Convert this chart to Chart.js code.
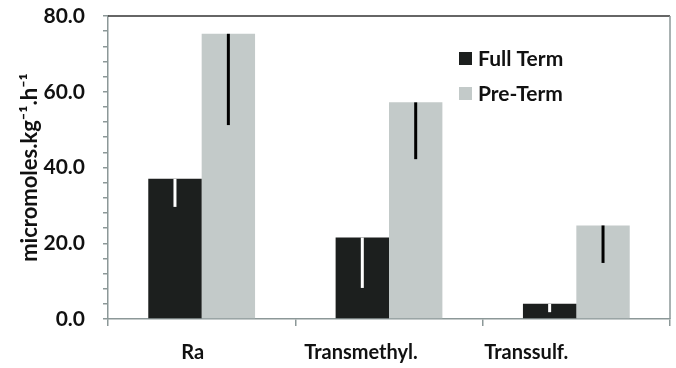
<!DOCTYPE html>
<html lang="en">
<head>
    <meta charset="UTF-8">
    <title>Methionine kinetics</title>
    <style>
        body {
            margin: 0;
            padding: 0;
            background-color: #fff;
        }
        .chart-box {
            width: 676px;
            height: 368px;
        }
    </style>
</head>
<body>

<div class="chart-box">
    <canvas id="rateChart" width="676" height="368"></canvas>
</div>

<script src="https://cdn.jsdelivr.net/npm/chart.js"></script>
<script>
    // values
    const categories = ['Ra', 'Transmethyl.', 'Transsulf.'];
    const fullTerm = [37.0, 21.5, 4.0];
    const fullTermLow = [29.6, 8.2, 1.8];
    const preTerm = [75.3, 57.2, 24.7];
    const preTermLow = [51.2, 42.2, 14.8];
    const yTicks = [0, 20, 40, 60, 80];

    const FONT = 'Lato, "Open Sans", sans-serif';
    const darkBar = '#1c1f1e';
    const lightBar = '#c3cac9';
    const axisGrey = '#8c9898';

    // error bars drawn downward from each bar top
    const errorBars = {
        id: 'errorBars',
        afterDatasetsDraw(chart) {
            const ctx = chart.ctx;
            const y = chart.scales.y;
            const lows = [fullTermLow, preTermLow];
            const colors = ['#ffffff', '#000000'];
            ctx.save();
            ctx.lineWidth = 3;
            lows.forEach((low, i) => {
                const meta = chart.getDatasetMeta(i);
                ctx.strokeStyle = colors[i];
                meta.data.forEach((bar, j) => {
                    ctx.beginPath();
                    ctx.moveTo(bar.x, bar.y);
                    ctx.lineTo(bar.x, y.getPixelForValue(low[j]));
                    ctx.stroke();
                });
            });
            ctx.restore();
        }
    };

    // top and right frame, legend inside plot, shifted category labels
    const decorations = {
        id: 'decorations',
        afterDraw(chart) {
            const ctx = chart.ctx;
            const a = chart.chartArea;
            ctx.save();
            ctx.lineWidth = 1.5;
            ctx.strokeStyle = '#333';
            ctx.beginPath();
            ctx.moveTo(a.left, a.top);
            ctx.lineTo(a.right, a.top);
            ctx.stroke();
            ctx.strokeStyle = axisGrey;
            ctx.beginPath();
            ctx.moveTo(a.right, a.top);
            ctx.lineTo(a.right, a.bottom);
            ctx.stroke();

            // legend
            const items = chart.data.datasets;
            ctx.font = 'bold 21px ' + FONT;
            ctx.textBaseline = 'middle';
            ctx.textAlign = 'left';
            items.forEach((ds, i) => {
                const ly = a.top + 42 + i * 35;
                ctx.fillStyle = ds.backgroundColor;
                ctx.fillRect(a.left + 351, ly - 6, 13, 13);
                ctx.fillStyle = '#111';
                ctx.fillText(ds.label, a.left + 370, ly + 1);
            });

            // category labels (as placed in the original figure)
            const shift = [-9, -28, -50];
            const x = chart.scales.x;
            ctx.textAlign = 'center';
            ctx.font = 'bold 20px ' + FONT;
            categories.forEach((c, i) => {
                ctx.fillText(c, x.getPixelForValue(i) + shift[i], a.bottom + 34);
            });
            ctx.restore();
        }
    };

    new Chart(document.getElementById('rateChart'), {
        type: 'bar',
        data: {
            labels: categories,
            datasets: [
                { label: 'Full Term', data: fullTerm, backgroundColor: darkBar },
                { label: 'Pre-Term', data: preTerm, backgroundColor: lightBar }
            ]
        },
        options: {
            responsive: false,
            animation: false,
            layout: { padding: { top: 16, right: 6, left: 0, bottom: 0 } },
            datasets: {
                bar: { barPercentage: 1.0, categoryPercentage: 0.57 }
            },
            plugins: {
                legend: { display: false },
                tooltip: { enabled: false }
            },
            scales: {
                x: {
                    offset: true,
                    grid: {
                        offset: true,
                        drawOnChartArea: false,
                        drawTicks: true,
                        tickLength: 7,
                        color: axisGrey,
                        lineWidth: 1.5
                    },
                    border: { color: axisGrey, width: 1.5 },
                    ticks: { display: false },
                    afterFit(scale) { scale.height = 49; }
                },
                y: {
                    min: 0,
                    max: 80,
                    afterBuildTicks(scale) {
                        const t = [];
                        for (let v = 0; v <= 80; v += 4) t.push({ value: v });
                        scale.ticks = t;
                    },
                    ticks: {
                        autoSkip: false,
                        padding: 18,
                        color: '#111',
                        font: { family: FONT, size: 21, weight: 'bold' },
                        callback: v => yTicks.includes(v) ? v.toFixed(1) : ''
                    },
                    grid: {
                        drawOnChartArea: false,
                        drawTicks: true,
                        tickLength: 5,
                        color: axisGrey,
                        lineWidth: 1.5
                    },
                    border: { color: axisGrey, width: 1.5 },
                    title: {
                        display: true,
                        text: 'micromoles.kg\u207B\u00B9.h\u207B\u00B9',
                        color: '#111',
                        font: { family: FONT, size: 22, weight: 'bold' },
                        padding: { top: 17, bottom: 0 }
                    },
                    afterFit(scale) {
                        scale.width = 108;
                        scale.paddingTop = 0;
                        scale.paddingBottom = 0;
                    }
                }
            }
        },
        plugins: [errorBars, decorations]
    });
</script>

</body>
</html>
